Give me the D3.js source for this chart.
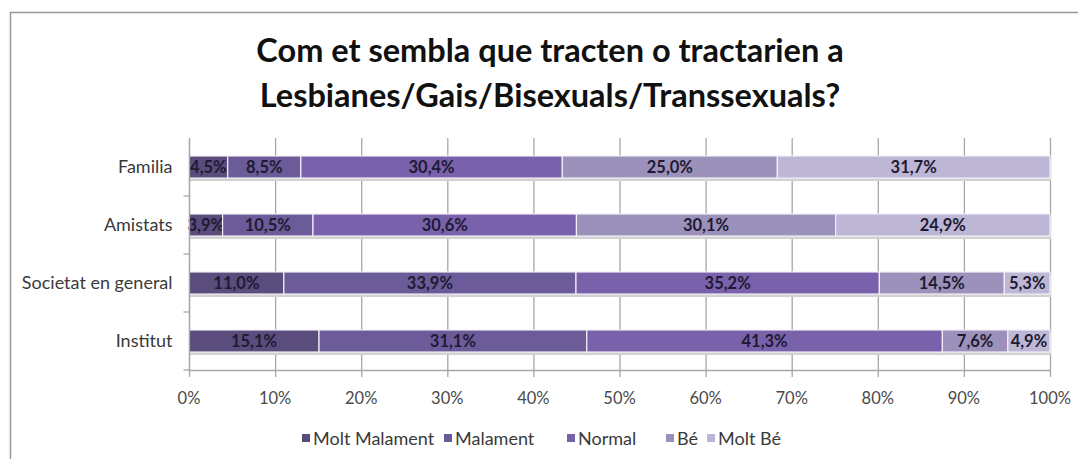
<!DOCTYPE HTML>
<html>
  <head>
    <meta charset='utf-8'>
    <title>Com et sembla que tracten</title>
    <script src='https://d3js.org/d3.v7.min.js'></script>
  </head>
  <style>
    body {margin:0; background:#fff;}
    svg text {font-family:Lato,'Open Sans',sans-serif;}
  </style>
  <body>
    <svg id='chart'></svg>
<script>
  var categories=['Familia','Amistats','Societat en general','Institut'];
  var seriesNames=['Molt Malament','Malament','Normal','Bé','Molt Bé'];
  var moltMalament=[4.5,3.9,11.0,15.1];
  var malament=[8.5,10.5,33.9,31.1];
  var normal=[30.4,30.6,35.2,41.3];
  var be=[25.0,30.1,14.5,7.6];
  var moltBe=[31.7,24.9,5.3,4.9];
  var xTicks=[0,.1,.2,.3,.4,.5,.6,.7,.8,.9,1];
  var colors=['#5a4c7c','#6b5b98','#7961ab','#9b91bb','#bdb6d5'];

  var width=1078, height=459;
  var margin={top:138,right:28,bottom:89,left:189};
  var svg=d3.select('#chart').attr('width',width).attr('height',height);

  // chart frame (right and bottom edges fall outside the picture)
  svg.append('path').attr('d','M10.5,'+height+'V12.5H'+width)
     .attr('fill','none').attr('stroke','#999').attr('stroke-width',1.5);

  var values=[moltMalament,malament,normal,be,moltBe];
  var rows=categories.map(function(c,i) {
    var r={cat:c};
    seriesNames.forEach(function(s,j) {r[s]=values[j][i];});
    return r;});
  var stack=d3.stack().keys(seriesNames).offset(d3.stackOffsetExpand);
  var layers=stack(rows);

  var x=d3.scaleLinear().domain([0,1]).range([margin.left,width-margin.right]);
  var y=d3.scaleBand().domain(categories)
          .range([margin.top,height-margin.bottom]).paddingInner(.62).paddingOuter(.31);

  // gridlines
  svg.append('g').selectAll('line').data(xTicks).join('line')
     .attr('x1',d=>x(d)+.5).attr('x2',d=>x(d)+.5)
     .attr('y1',margin.top).attr('y2',height-margin.bottom+7)
     .attr('stroke','#a6a6a6').attr('stroke-width',1.3);

  // bar shadows
  svg.append('g').selectAll('rect').data(rows).join('rect')
     .attr('x',x(0)+1).attr('y',d=>y(d.cat)+3)
     .attr('width',x(1)-x(0)).attr('height',y.bandwidth())
     .attr('fill','#d2d2d2');

  var g=svg.append('g').selectAll('g').data(layers).join('g')
     .attr('fill',(d,i)=>colors[i]);
  g.selectAll('rect').data(d=>d.map(function(v) {v.key=d.key; return v;})).join('rect')
     .attr('x',d=>x(d[0])).attr('y',d=>y(d.data.cat))
     .attr('width',d=>x(d[1])-x(d[0])).attr('height',y.bandwidth())
     .attr('stroke','#f2f0f7').attr('stroke-width',1.2);
  g.selectAll('text').data(d=>d).join('text')
     .attr('x',d=>(x(d[0])+x(d[1]))/2).attr('y',d=>y(d.data.cat)+y.bandwidth()/2+6)
     .attr('text-anchor','middle').attr('font-size',16.5).attr('font-weight','bold')
     .attr('fill','#1e1a33')
     .text(d=>d.data[d.key].toFixed(1).replace('.',',')+'%');

  // y axis
  var yAxis=svg.append('g').attr('transform','translate('+(x(0)+.5)+',0)');
  yAxis.append('line').attr('y1',margin.top).attr('y2',height-margin.bottom)
       .attr('stroke','#a6a6a6').attr('stroke-width',1.3);
  yAxis.selectAll('.tk').data(categories).join('line')
       .attr('x1',-6).attr('x2',0)
       .attr('y1',d=>y(d)+y.bandwidth()+y.step()*y.paddingInner()/2)
       .attr('y2',d=>y(d)+y.bandwidth()+y.step()*y.paddingInner()/2)
       .attr('stroke','#a6a6a6').attr('stroke-width',1.3);
  yAxis.selectAll('text').data(categories).join('text')
       .attr('x',-17).attr('y',d=>y(d)+y.bandwidth()/2+6)
       .attr('text-anchor','end').attr('font-size',18).attr('fill','#3a3a3a')
       .text(d=>d);

  // x axis
  svg.append('line').attr('x1',x(0)).attr('x2',x(1))
     .attr('y1',height-margin.bottom+.5).attr('y2',height-margin.bottom+.5)
     .attr('stroke','#a6a6a6').attr('stroke-width',1.3);
  svg.append('g').selectAll('text').data(xTicks).join('text')
     .attr('x',d=>x(d)).attr('y',height-margin.bottom+34)
     .attr('text-anchor','middle').attr('font-size',16.5).attr('fill','#4a4a4a')
     .text(d3.format('.0%'));

  // title
  var title=svg.append('text').attr('text-anchor','middle').attr('font-size',32.5)
     .attr('font-weight','bold').attr('fill','#111');
  title.append('tspan').attr('x',550).attr('y',62).text('Com et sembla que tracten o tractarien a');
  title.append('tspan').attr('x',550).attr('y',107).text('Lesbianes/Gais/Bisexuals/Transsexuals?');

  // legend
  var legX=[302,444,567,666,707];
  var leg=svg.append('g').selectAll('g').data(seriesNames).join('g')
     .attr('transform',(d,i)=>'translate('+legX[i]+',439)');
  leg.append('rect').attr('x',0).attr('y',-5).attr('width',8).attr('height',8)
     .attr('fill',(d,i)=>colors[i]);
  leg.append('text').attr('x',11).attr('y',6).attr('font-size',18).attr('fill','#3a3a3a')
     .text(d=>d);
</script>
  </body>
</html>
